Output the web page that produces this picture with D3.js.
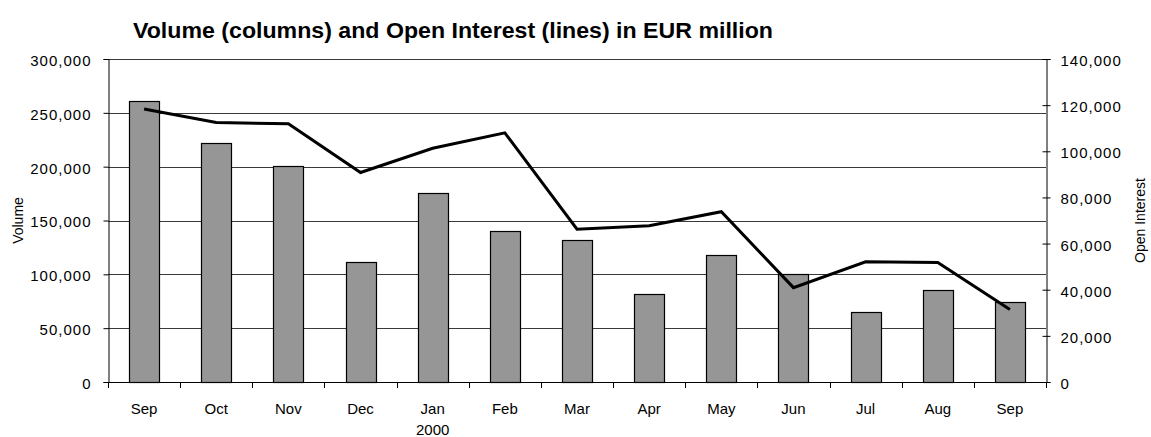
<!DOCTYPE html>
<html>
<head>
<meta charset="utf-8">
<script src="https://cdn.jsdelivr.net/npm/d3@7"></script>
<style>
  html, body { margin: 0; padding: 0; background: #fff; }
  svg { display: block; }
</style>
</head>
<body>
<svg id="chart" width="1151" height="437"></svg>
<script>
// ---- data ----
const months = ["Sep","Oct","Nov","Dec","Jan","Feb","Mar","Apr","May","Jun","Jul","Aug","Sep"];
const volume = [260600, 222200, 200500, 111500, 175700, 140400, 131700, 81500, 118400, 100400, 65100, 85500, 74100];
const openInterest = [118300, 112500, 111900, 90800, 101300, 108000, 66200, 67700, 73800, 40900, 52100, 51800, 31400];
const volumeTicks = [0, 50000, 100000, 150000, 200000, 250000, 300000];
const oiTicks = [0, 20000, 40000, 60000, 80000, 100000, 120000, 140000];
const title = "Volume (columns) and Open Interest (lines) in EUR million";
const yearLabel = "2000";

// ---- layout ----
const FONT = "'Liberation Sans', Arial, sans-serif";
const pL = 108, pR = 1046, pT = 59, pB = 382;
const svg = d3.select("#chart");
const fmt = d3.format(",");
const idx = months.map((m, i) => i);

const x = d3.scaleBand().domain(idx).range([pL, pR]).padding(0);
const step = x.step();
const barW = 30;
const yL = d3.scaleLinear().domain([0, 300000]).range([pB, pT]);
const yR = d3.scaleLinear().domain([0, 140000]).range([pB, pT]);

// gridlines
svg.append("g").selectAll("line").data(volumeTicks.filter(d => d > 0)).join("line")
  .attr("x1", pL).attr("x2", pR)
  .attr("y1", d => Math.round(yL(d)) + 0.5).attr("y2", d => Math.round(yL(d)) + 0.5)
  .attr("stroke", "#3a3a3a").attr("stroke-width", 1);

// bars
svg.append("g").selectAll("rect").data(volume).join("rect")
  .attr("x", (d, i) => Math.round(x(i) + (step - barW) / 2) + 0.5)
  .attr("y", d => Math.round(yL(d)) + 0.5)
  .attr("width", barW)
  .attr("height", d => Math.round(pB) - Math.round(yL(d)))
  .attr("fill", "#969696").attr("stroke", "#000").attr("stroke-width", 1.2);

// left axis
const gL = svg.append("g").attr("transform", `translate(${pL + 0.5},0)`)
  .call(d3.axisLeft(yL).tickValues(volumeTicks).tickFormat(fmt).tickSize(5).tickPadding(12));
gL.select(".domain").attr("stroke", "#000");
gL.selectAll("text").attr("font-size", 15).attr("letter-spacing", "1px")
  .attr("font-family", FONT).attr("fill", "#000").attr("dy", "0.43em");

// right axis (ticks cross axis)
const gR = svg.append("g").attr("transform", `translate(${pR + 0.5},0)`)
  .call(d3.axisRight(yR).tickValues(oiTicks).tickFormat(fmt).tickSize(4).tickPadding(10));
gR.select(".domain").attr("stroke", "#000");
gR.selectAll(".tick line").attr("x1", -4);
gR.selectAll("text").attr("font-size", 15).attr("letter-spacing", "1px")
  .attr("font-family", FONT).attr("fill", "#000").attr("dy", "0.43em");

// bottom axis
const gB = svg.append("g").attr("transform", `translate(0,${pB + 0.5})`)
  .call(d3.axisBottom(x).tickFormat(i => months[i]).tickSize(0).tickPadding(21));
gB.select(".domain").remove();
gB.selectAll("text").attr("font-size", 15).attr("font-family", FONT).attr("fill", "#000");
svg.append("line").attr("x1", pL).attr("x2", pR)
  .attr("y1", pB + 0.5).attr("y2", pB + 0.5).attr("stroke", "#000");
svg.append("g").selectAll("line").data(idx.concat([idx.length])).join("line")
  .attr("x1", i => Math.round(i < idx.length ? x(i) : pR) + 0.5)
  .attr("x2", i => Math.round(i < idx.length ? x(i) : pR) + 0.5)
  .attr("y1", pB).attr("y2", pB + 6).attr("stroke", "#000");
svg.append("text").attr("x", x(4) + step / 2).attr("y", 435)
  .attr("text-anchor", "middle").attr("font-size", 15).attr("font-family", FONT).text(yearLabel);

// open interest line
const line = d3.line().x((d, i) => x(i) + step / 2).y(d => yR(d));
svg.append("path").datum(openInterest).attr("d", line)
  .attr("fill", "none").attr("stroke", "#000").attr("stroke-width", 3)
  .attr("stroke-linejoin", "miter");

// axis titles
const midY = (pT + pB) / 2;
svg.append("text").attr("transform", `translate(23,${midY}) rotate(-90)`)
  .attr("text-anchor", "middle").attr("font-size", 14).attr("font-family", FONT).text("Volume");
svg.append("text").attr("transform", `translate(1145,${midY}) rotate(-90)`)
  .attr("text-anchor", "middle").attr("font-size", 14).attr("font-family", FONT).text("Open Interest");

// title
const t = svg.append("text").attr("x", 133).attr("y", 38)
  .attr("font-size", 22).attr("font-weight", "bold")
  .attr("font-family", "'Liberation Sans Narrow', 'Liberation Sans', Arial, sans-serif")
  .text(title);
const w = t.node().getComputedTextLength();
if (Math.abs(w - 640) > 3) t.attr("textLength", 640).attr("lengthAdjust", "spacingAndGlyphs");
</script>
</body>
</html>
